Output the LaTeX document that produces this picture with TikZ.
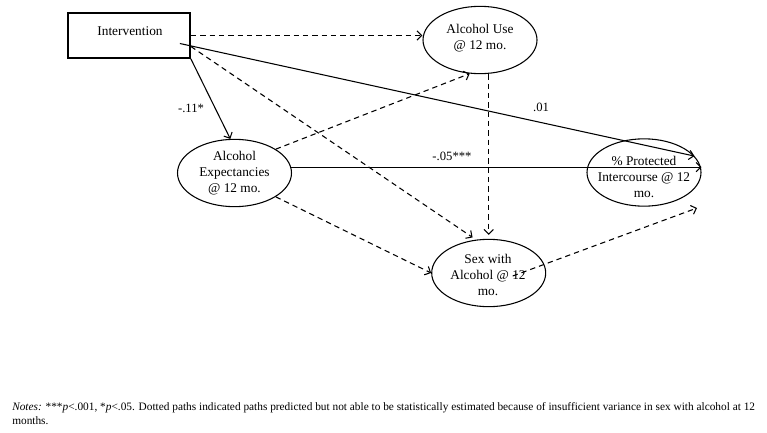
\documentclass[tikz,border=0pt]{standalone}
\usepackage{fontspec}
\setmainfont{Liberation Serif}
\usetikzlibrary{shapes.geometric}
\usetikzlibrary{arrows.meta}
\usetikzlibrary{calc}

\begin{document}
\begin{tikzpicture}[x=0.75pt,y=-0.75pt,>={Straight Barb[length=3.5pt,width=7pt]},
    box/.style={draw,line width=1.3pt,minimum width=91.5pt,minimum height=33.75pt,inner sep=0pt},
    oval/.style={draw,ellipse,line width=0.8pt,minimum width=85.5pt,minimum height=50.5pt,inner sep=0pt},
    txt/.style={align=center,font=\fontsize{10}{12}\selectfont,inner sep=0pt},
    coef/.style={font=\fontsize{9.5}{11}\selectfont,inner sep=0pt},
    sig/.style={line width=0.8pt},
    nsig/.style={line width=0.8pt,dash pattern=on 4pt off 3pt}]
                        \useasboundingbox (0,0) rectangle (767,432);
                        % boxes
                        \node[box] (int) at (129,35.5) {};
                        \node[txt] (int-t) at (130,31) {Intervention};
                        \node[oval] (use) at (480,40) {};
                        \node[txt] (use-t) at (480,38) {Alcohol Use\\@ 12 mo.};
                        \node[oval] (ae) at (234.5,173) {};
                        \node[txt] (ae-t) at (234.5,173) {Alcohol\\Expectancies\\@ 12 mo.};
                        \node[oval] (prot) at (644,172.5) {};
                        \node[txt] (prot-t) at (644,177) {\% Protected\\Intercourse @ 12\\mo.};
                        \node[oval] (sex) at (488.7,273) {};
                        \node[txt] (sex-t) at (488,275) {Sex with\\Alcohol @ 12\\mo.};
                        \coordinate (sexend) at (697,208);
                        % paths
                        \draw[sig,->] (int.south east) -- (ae.97) node[coef] (c11) at (191,108) {-.11*};
                        \draw[sig,->] ($(int.east)+(-11,8)$) -- (prot.18) node[coef] (c01) at (541,107) {.01};
                        \draw[sig,->] (ae.6) -- (ae.6 -| prot.east) node[coef] (c05) at (452,156) {-.05***};
                        \draw[nsig,->] (int.east) -- (int.east -| use.west);
                        \draw[nsig,->,shorten >=3pt] ($(int.east)+(0,11)$) -- (sex.111);
                        \draw[nsig,->] (ae.30) -- (use.253);
                        \draw[nsig,->] (ae.-30) -- (sex.west);
                        \draw[nsig,->,shorten >=3pt] (use.south -| sex.north) -- (sex.north);
                        \draw[nsig,->] ($(sex.center)+(24,3)$) -- (sexend);
                        % note
                        \node[anchor=north west,align=left,inner sep=0pt,font=\fontsize{8.5}{10.5}\selectfont] (note) at (12,402)
                            {\textit{Notes:} ***\textit{p}<.001, *\textit{p}<.05. Dotted paths indicated paths predicted but not able to be statistically estimated because of insufficient variance in sex with alcohol at 12\\months.};
                    \end{tikzpicture}
\end{document}
